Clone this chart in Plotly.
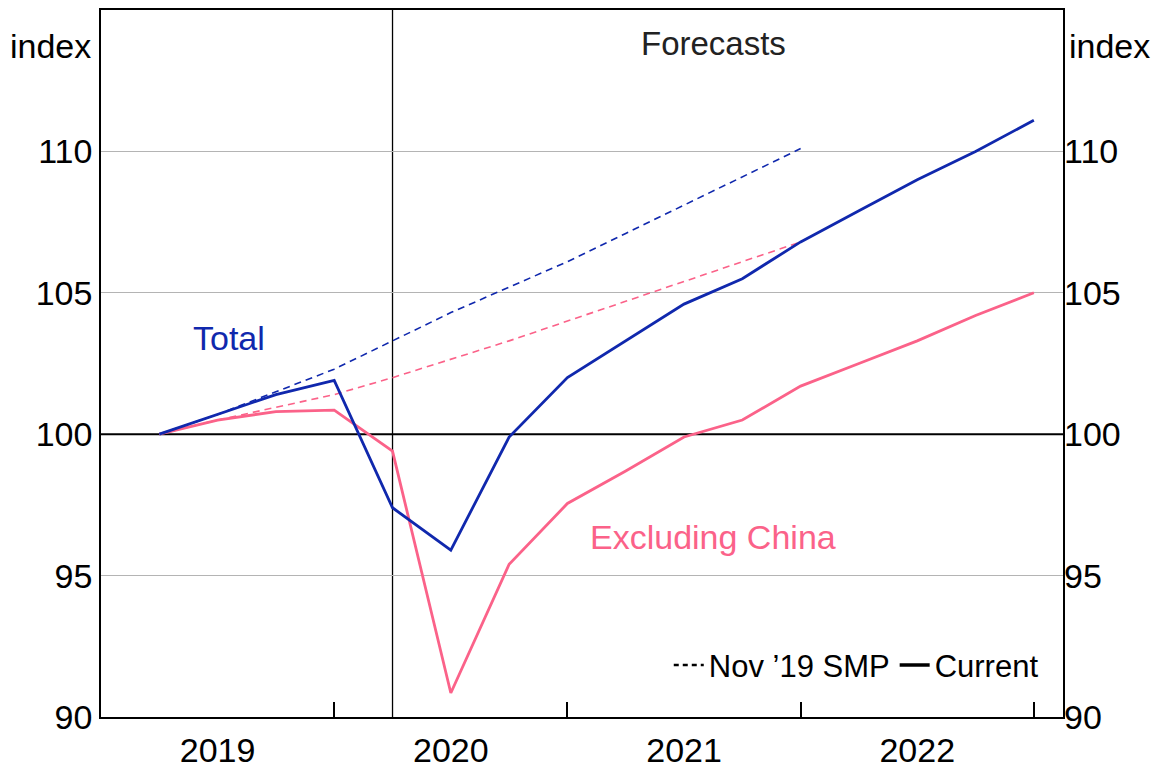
import plotly.graph_objects as go

# Quarter index: 0 = Dec 2018, 1 = Mar 2019, ..., 16 = Dec 2022
quarters = list(range(1, 17))
total_current = [100.0, 100.7, 101.4, 101.9, 97.4, 95.9, 99.9, 102.0,
                 103.3, 104.6, 105.5, 106.8, 107.9, 109.0, 110.0, 111.1]
exchina_current = [100.0, 100.5, 100.8, 100.85, 99.4, 90.85, 95.4, 97.55,
                   98.7, 99.9, 100.5, 101.7, 102.5, 103.3, 104.2, 105.0]
quarters_nov = list(range(1, 13))
total_nov19 = [100.0, 100.7, 101.5, 102.3, 103.3, 104.3, 105.2, 106.1,
               107.1, 108.1, 109.1, 110.1]
exchina_nov19 = [100.0, 100.5, 100.95, 101.4, 102.0, 102.65, 103.3, 104.0,
                 104.7, 105.4, 106.1, 106.8]

year_pos = [2, 6, 10, 14]
year_labels = ["2019", "2020", "2021", "2022"]
year_ends = [4, 8, 12, 16]
forecast_start = 5
y_ticks = [90, 95, 100, 105, 110]
grid_ticks = [95, 105, 110]

BLUE = "#1028ad"
PINK = "#fb6289"
FONT = "Liberation Sans, Arial, sans-serif"
FS = 34

fig = go.Figure()
fig.add_trace(go.Scatter(x=quarters_nov, y=total_nov19, mode="lines",
                         line=dict(color=BLUE, width=1.6, dash="7px,5px"),
                         showlegend=False, hoverinfo="skip"))
fig.add_trace(go.Scatter(x=quarters_nov, y=exchina_nov19, mode="lines",
                         line=dict(color=PINK, width=1.6, dash="7px,5px"),
                         showlegend=False, hoverinfo="skip"))
fig.add_trace(go.Scatter(x=quarters, y=exchina_current, mode="lines",
                         line=dict(color=PINK, width=2.8),
                         showlegend=False))
fig.add_trace(go.Scatter(x=quarters, y=total_current, mode="lines",
                         line=dict(color=BLUE, width=2.8),
                         showlegend=False))
# legend entries
fig.add_trace(go.Scatter(x=[None], y=[None], mode="lines", name="Nov \u201919 SMP",
                         line=dict(color="black", width=2.5, dash="5px,4px")))
fig.add_trace(go.Scatter(x=[None], y=[None], mode="lines", name="Current",
                         line=dict(color="black", width=3.5)))
# right-axis and grid-axis dummies
fig.add_trace(go.Scatter(x=[None], y=[None], yaxis="y2", showlegend=False))
fig.add_trace(go.Scatter(x=[None], y=[None], yaxis="y3", showlegend=False))

fig.add_hline(y=100, line=dict(color="black", width=2), layer="below")
fig.add_vline(x=forecast_start, line=dict(color="black", width=1.3), layer="below")

fig.add_annotation(x=10.5, y=113.8, text="Forecasts", showarrow=False,
                   font=dict(size=FS - 1, color="#222222"))
fig.add_annotation(x=2.2, y=103.4, text="Total", showarrow=False,
                   font=dict(size=FS, color=BLUE))
fig.add_annotation(x=10.5, y=96.35, text="Excluding China", showarrow=False,
                   font=dict(size=FS, color=PINK))
fig.add_annotation(xref="paper", yref="paper", x=-0.008, y=0.979, xanchor="right",
                   text="index", showarrow=False, font=dict(size=FS, color="black"))
fig.add_annotation(xref="paper", yref="paper", x=1.004, y=0.979, xanchor="left",
                   text="index", showarrow=False, font=dict(size=FS, color="black"))

axis_common = dict(showline=True, linecolor="black", linewidth=1.5, mirror=True)
fig.update_layout(
    width=1156, height=772,
    margin=dict(l=101, r=93, t=10, b=55, autoexpand=False),
    plot_bgcolor="white", paper_bgcolor="white",
    font=dict(family=FONT, size=FS, color="black"),
    xaxis=dict(range=[0, 16.5], tickmode="array", tickvals=year_pos,
               ticktext=year_labels, ticks="", showgrid=False, zeroline=False,
               ticklabelstandoff=2, automargin=False,
               minor=dict(tickmode="array", tickvals=year_ends, ticks="inside",
                          ticklen=15, tickwidth=1.5, tickcolor="black", showgrid=False),
               **axis_common),
    yaxis=dict(range=[90, 115], tickmode="array", tickvals=y_ticks, ticks="",
               showgrid=False, zeroline=False, automargin=False, **axis_common),
    yaxis2=dict(range=[90, 115], tickmode="array", tickvals=y_ticks, ticks="",
                overlaying="y", side="right", showgrid=False, zeroline=False,
                automargin=False),
    yaxis3=dict(range=[90, 115], tickmode="array", tickvals=grid_ticks,
                overlaying="y", showticklabels=False, ticks="",
                showgrid=True, gridcolor="#b4b4b4", gridwidth=1.3, zeroline=False),
    legend=dict(orientation="h", x=0.98, xanchor="right", y=0.035, yanchor="bottom",
                bgcolor="rgba(0,0,0,0)", font=dict(size=FS - 3),
                itemwidth=30, tracegroupgap=0),
    showlegend=True,
)

fig.write_html("out.html", config={"displayModeBar": False},
               post_script="document.body.style.margin='0';")
